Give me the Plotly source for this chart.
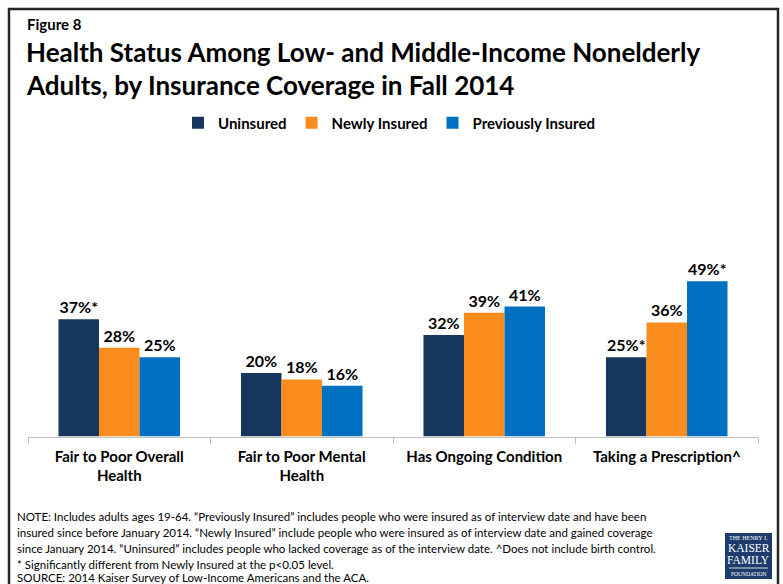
import plotly.graph_objects as go

# ---- data ----------------------------------------------------------------
categories = [
    "Fair to Poor Overall<br>Health",
    "Fair to Poor Mental<br>Health",
    "Has Ongoing Condition",
    "Taking a Prescription^",
]
series_names = ["Uninsured", "Newly Insured", "Previously Insured"]
uninsured = [37, 20, 32, 25]
newly_insured = [28, 18, 39, 36]
previously_insured = [25, 16, 41, 49]
# "*" marks a value significantly different from Newly Insured (p<0.05)
uninsured_sig = ["*", "", "", "*"]
newly_insured_sig = ["", "", "", ""]
previously_insured_sig = ["", "", "", "*"]

note_lines = [
    "NOTE: Includes adults ages 19-64. \u201cPreviously Insured\u201d includes people who were insured as of interview date and have been",
    "insured since before January 2014. \u201cNewly Insured\u201d include people who were insured as of interview date and gained coverage",
    "since January 2014. \u201cUninsured\u201d includes people who lacked coverage as of the interview date. ^Does not include birth control.",
    "* Significantly different from Newly Insured at the p<0.05 level.",
    "SOURCE: 2014 Kaiser Survey of Low-Income Americans and the ACA.",
]

# ---- styling -------------------------------------------------------------
W, H = 783, 584
FONT = "Lato, 'Open Sans', sans-serif"
colors = ["#17365d", "#f98c1d", "#0070c0"]


def px_x(x):
    return x / W


def px_y(y):
    return 1 - y / H


fig = go.Figure()
for name, vals, sig, col in zip(
    series_names,
    [uninsured, newly_insured, previously_insured],
    [uninsured_sig, newly_insured_sig, previously_insured_sig],
    colors,
):
    fig.add_trace(
        go.Bar(
            name=name,
            x=categories,
            y=vals,
            marker=dict(color=col, line=dict(width=0)),
            text=[f"{v}%{s}" for v, s in zip(vals, sig)],
            textposition="outside",
            textfont=dict(family=FONT, size=16, color="#000000", weight="bold"),
            constraintext="none",
            cliponaxis=False,
            hoverinfo="skip",
        )
    )

annotations = [
    dict(text="Figure 8", x=px_x(25), y=px_y(24), xanchor="left", yanchor="middle",
         font=dict(family=FONT, size=15, color="#000000", weight="bold")),
    dict(text="Health Status Among Low- and Middle-Income Nonelderly", x=px_x(24), y=px_y(52),
         xanchor="left", yanchor="middle",
         font=dict(family=FONT, size=26, color="#000000", weight="bold")),
    dict(text="Adults, by Insurance Coverage in Fall 2014", x=px_x(24), y=px_y(84.5),
         xanchor="left", yanchor="middle",
         font=dict(family=FONT, size=26, color="#000000", weight="bold")),
]
note_y = [516, 532.5, 548.5, 564, 577]
for line, yy in zip(note_lines, note_y):
    annotations.append(
        dict(text=line, x=px_x(16), y=px_y(yy), xanchor="left", yanchor="middle",
             font=dict(family=FONT, size=11.5, color="#000000"), borderpad=0)
    )

# foundation logo
logo_font = "'Liberation Serif', 'DejaVu Serif', serif"
for txt, yy, sz in [("THE HENRY J.", 538, 6), ("KAISER", 547.5, 11.5), ("FAMILY", 560, 11.5), ("FOUNDATION", 574, 5.5)]:
    annotations.append(
        dict(text=txt, x=px_x(748.5), y=px_y(yy), xanchor="center", yanchor="middle",
             font=dict(family=logo_font, size=sz, color="#ffffff"), borderpad=0)
    )
for a in annotations:
    a.update(xref="paper", yref="paper", showarrow=False)

shapes = [
    # outer frame
    dict(type="rect", xref="paper", yref="paper", x0=px_x(9), x1=px_x(778), y0=-0.05, y1=px_y(9),
         line=dict(color="#262626", width=2.5), fillcolor="rgba(0,0,0,0)"),
    # logo block
    dict(type="rect", xref="paper", yref="paper", x0=px_x(725), x1=px_x(772), y0=px_y(579), y1=px_y(533),
         line=dict(width=0), fillcolor="#1d3c6b", layer="above"),
    dict(type="line", xref="paper", yref="paper", x0=px_x(729), x1=px_x(768), y0=px_y(568), y1=px_y(568),
         line=dict(color="#ffffff", width=0.8), layer="above"),
]

fig.update_layout(
    width=W,
    height=H,
    margin=dict(l=0, r=0, t=0, b=0),
    paper_bgcolor="#ffffff",
    plot_bgcolor="#ffffff",
    barmode="group",
    bargap=0.334,
    bargroupgap=0,
    showlegend=True,
    legend=dict(
        orientation="h",
        x=px_x(178), xanchor="left",
        y=px_y(123), yanchor="middle",
        font=dict(family=FONT, size=15, color="#000000", weight="bold"),
        itemwidth=30,
        bgcolor="rgba(0,0,0,0)",
    ),
    xaxis=dict(
        domain=[px_x(28), px_x(758)],
        range=[-0.5, 3.5],
        showline=True,
        linecolor="#bfbfbf",
        linewidth=1,
        ticks="outside",
        tickson="boundaries",
        ticklen=6,
        tickcolor="#bfbfbf",
        ticklabelstandoff=6,
        tickfont=dict(family=FONT, size=15, color="#000000", weight="bold"),
        showgrid=False,
        zeroline=False,
        fixedrange=True,
    ),
    yaxis=dict(
        domain=[px_y(436.5), px_y(436.5 - 60 * 3.17)],
        range=[0, 60],
        visible=False,
        showgrid=False,
        zeroline=False,
        fixedrange=True,
    ),
    annotations=annotations,
    shapes=shapes,
    font=dict(family=FONT),
)

fig.write_html("out.html")
